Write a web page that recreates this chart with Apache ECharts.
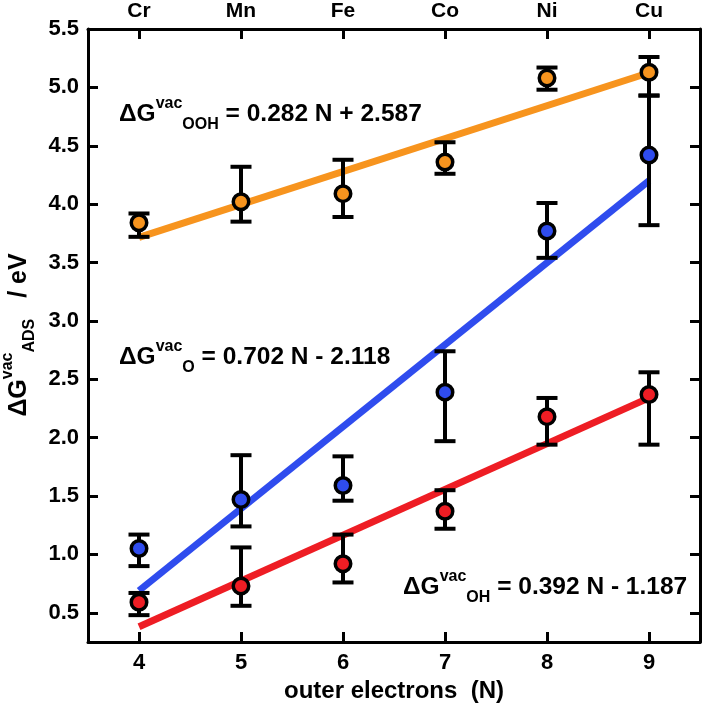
<!DOCTYPE html>
<html><head><meta charset="utf-8">
<script src="https://cdn.jsdelivr.net/npm/echarts@6/dist/echarts.min.js"></script>
<style>html,body{margin:0;padding:0;background:#fff}#c{width:704px;height:705px}</style>
</head><body><div id="c"></div>
<script>
const elements = ['Cr', 'Mn', 'Fe', 'Co', 'Ni', 'Cu'];
const N = [4, 5, 6, 7, 8, 9];
const xTicks = [4, 5, 6, 7, 8, 9];
const yTicks = [0.5, 1.0, 1.5, 2.0, 2.5, 3.0, 3.5, 4.0, 4.5, 5.0, 5.5];

const oohVal  = [3.84, 4.02, 4.09, 4.36, 5.08, 5.13];
const oohLow  = [3.72, 3.85, 3.89, 4.26, 4.98, 4.93];
const oohHigh = [3.92, 4.32, 4.38, 4.53, 5.17, 5.26];

const oVal  = [1.05, 1.47, 1.59, 2.39, 3.77, 4.42];
const oLow  = [0.90, 1.24, 1.46, 1.97, 3.54, 3.82];
const oHigh = [1.17, 1.85, 1.84, 2.74, 4.01, 4.93];

const ohVal  = [0.59, 0.73, 0.92, 1.37, 2.18, 2.37];
const ohLow  = [0.48, 0.56, 0.76, 1.22, 1.94, 1.94];
const ohHigh = [0.67, 1.06, 1.17, 1.55, 2.34, 2.56];

const fitN = [4, 9];
const oohFit = [3.715, 5.125];
const oFit = [0.690, 4.200];
const ohFit = [0.381, 2.341];

const eqOOH = ['OOH', '= 0.282 N + 2.587'];
const eqO = ['O', '= 0.702 N - 2.118'];
const eqOH = ['OH', '= 0.392 N - 1.187'];

const ORANGE = '#F7941E', BLUE = '#2F4CEE', RED = '#EE1D24';
const FONT = '"Liberation Sans", Arial, sans-serif';

const chart = echarts.init(document.getElementById('c'), null, {renderer: 'canvas'});

function pts(vals) { return N.map((n, i) => [n, vals[i]]); }
function fit(vals) { return fitN.map((n, i) => [n, vals[i]]); }

function errSeries(low, high) {
  return {
    type: 'custom', z: 3, silent: true,
    data: N.map((n, i) => [n, low[i], high[i]]),
    encode: {x: 0, y: [1, 2]},
    renderItem(params, api) {
      const x = api.value(0);
      const lo = api.coord([x, api.value(1)]);
      const hi = api.coord([x, api.value(2)]);
      const hw = 10.5;
      const style = {stroke: '#000', lineWidth: 4, fill: null};
      return {type: 'group', children: [
        {type: 'line', shape: {x1: lo[0], y1: lo[1], x2: hi[0], y2: hi[1]}, style},
        {type: 'line', shape: {x1: lo[0] - hw, y1: lo[1], x2: lo[0] + hw, y2: lo[1]}, style},
        {type: 'line', shape: {x1: hi[0] - hw, y1: hi[1], x2: hi[0] + hw, y2: hi[1]}, style}
      ]};
    }
  };
}
function fitSeries(vals, color) {
  return {type: 'line', z: 2, data: fit(vals), showSymbol: false, symbol: 'none', silent: true,
    lineStyle: {color, width: 7, cap: 'butt'}};
}
function ptSeries(vals, color) {
  return {type: 'scatter', z: 4, data: pts(vals), symbol: 'circle', symbolSize: 15.5, silent: true,
    itemStyle: {color, borderColor: '#000', borderWidth: 3.5, opacity: 1}};
}
function rich(color, big, small, lh) {
  return {
    m: {fontSize: big, fontWeight: 'bold', color, lineHeight: lh, fontFamily: FONT},
    sup: {fontSize: small, fontWeight: 'bold', color, lineHeight: small - 1, verticalAlign: 'top', fontFamily: FONT},
    sub: {fontSize: small, fontWeight: 'bold', color, lineHeight: small - 1, verticalAlign: 'bottom', fontFamily: FONT}
  };
}
function eqText(eq, color, x, y) {
  return {type: 'text', x, y, z: 10, silent: true,
    style: {text: '{m|ΔG}{sup|vac}{sub|' + eq[0] + '}{m| ' + eq[1] + '}', rich: rich(color, 24.5, 16, 37),
      align: 'left', verticalAlign: 'middle'}};
}

const axisCommon = {
  type: 'value', min: 3.5, max: 9.5,
  axisLine: {show: true, onZero: false, lineStyle: {color: '#000', width: 3}},
  axisTick: {show: true, inside: true, length: 10, lineStyle: {color: '#000', width: 3}, customValues: xTicks},
  splitLine: {show: false}
};
const yCommon = {
  type: 'value', min: 0.25, max: 5.5,
  axisLine: {show: true, onZero: false, lineStyle: {color: '#000', width: 3}},
  axisTick: {show: true, inside: true, length: 10, lineStyle: {color: '#000', width: 3}, customValues: yTicks},
  splitLine: {show: false}
};
const labelStyle = {color: '#000', fontSize: 22, fontWeight: 'bold', fontFamily: FONT};

chart.setOption({
  animation: false,
  backgroundColor: '#fff',
  grid: {left: 88, right: 4, top: 29, bottom: 63, containLabel: false, outerBoundsMode: 'none'},
  xAxis: [
    Object.assign({}, axisCommon, {position: 'bottom',
      axisLabel: Object.assign({show: true, margin: 10, customValues: xTicks, formatter: v => String(v)}, labelStyle),
      name: 'outer electrons  (N)', nameLocation: 'middle', nameGap: 36,
      nameTextStyle: {color: '#000', fontSize: 24, fontWeight: 'bold', fontFamily: FONT}}),
    Object.assign({}, axisCommon, {position: 'top',
      axisLabel: Object.assign({show: true, margin: 7, customValues: xTicks,
        formatter: v => elements[xTicks.indexOf(Math.round(v))]}, labelStyle, {fontSize: 21})})
  ],
  yAxis: [
    Object.assign({}, yCommon, {position: 'left',
      axisLabel: Object.assign({show: true, margin: 9, customValues: yTicks, formatter: v => v.toFixed(1)}, labelStyle)}),
    Object.assign({}, yCommon, {position: 'right', axisLabel: {show: false}})
  ],
  series: [
    fitSeries(oohFit, ORANGE), fitSeries(oFit, BLUE), fitSeries(ohFit, RED),
    errSeries(oohLow, oohHigh), errSeries(oLow, oHigh), errSeries(ohLow, ohHigh),
    ptSeries(oohVal, ORANGE), ptSeries(oVal, BLUE), ptSeries(ohVal, RED)
  ],
  graphic: [
    eqText(eqOOH, ORANGE, 119, 114),
    eqText(eqO, BLUE, 119, 357),
    eqText(eqOH, RED, 403, 587),
    {type: 'text', x: 19, y: 335, rotation: Math.PI / 2, z: 10, silent: true,
      style: {text: '{m|ΔG}{sup|vac}{sub|ADS}{m|   / eV}', rich: rich('#000', 25, 16, 38),
        align: 'center', verticalAlign: 'middle'}}
  ]
});
</script></body></html>
